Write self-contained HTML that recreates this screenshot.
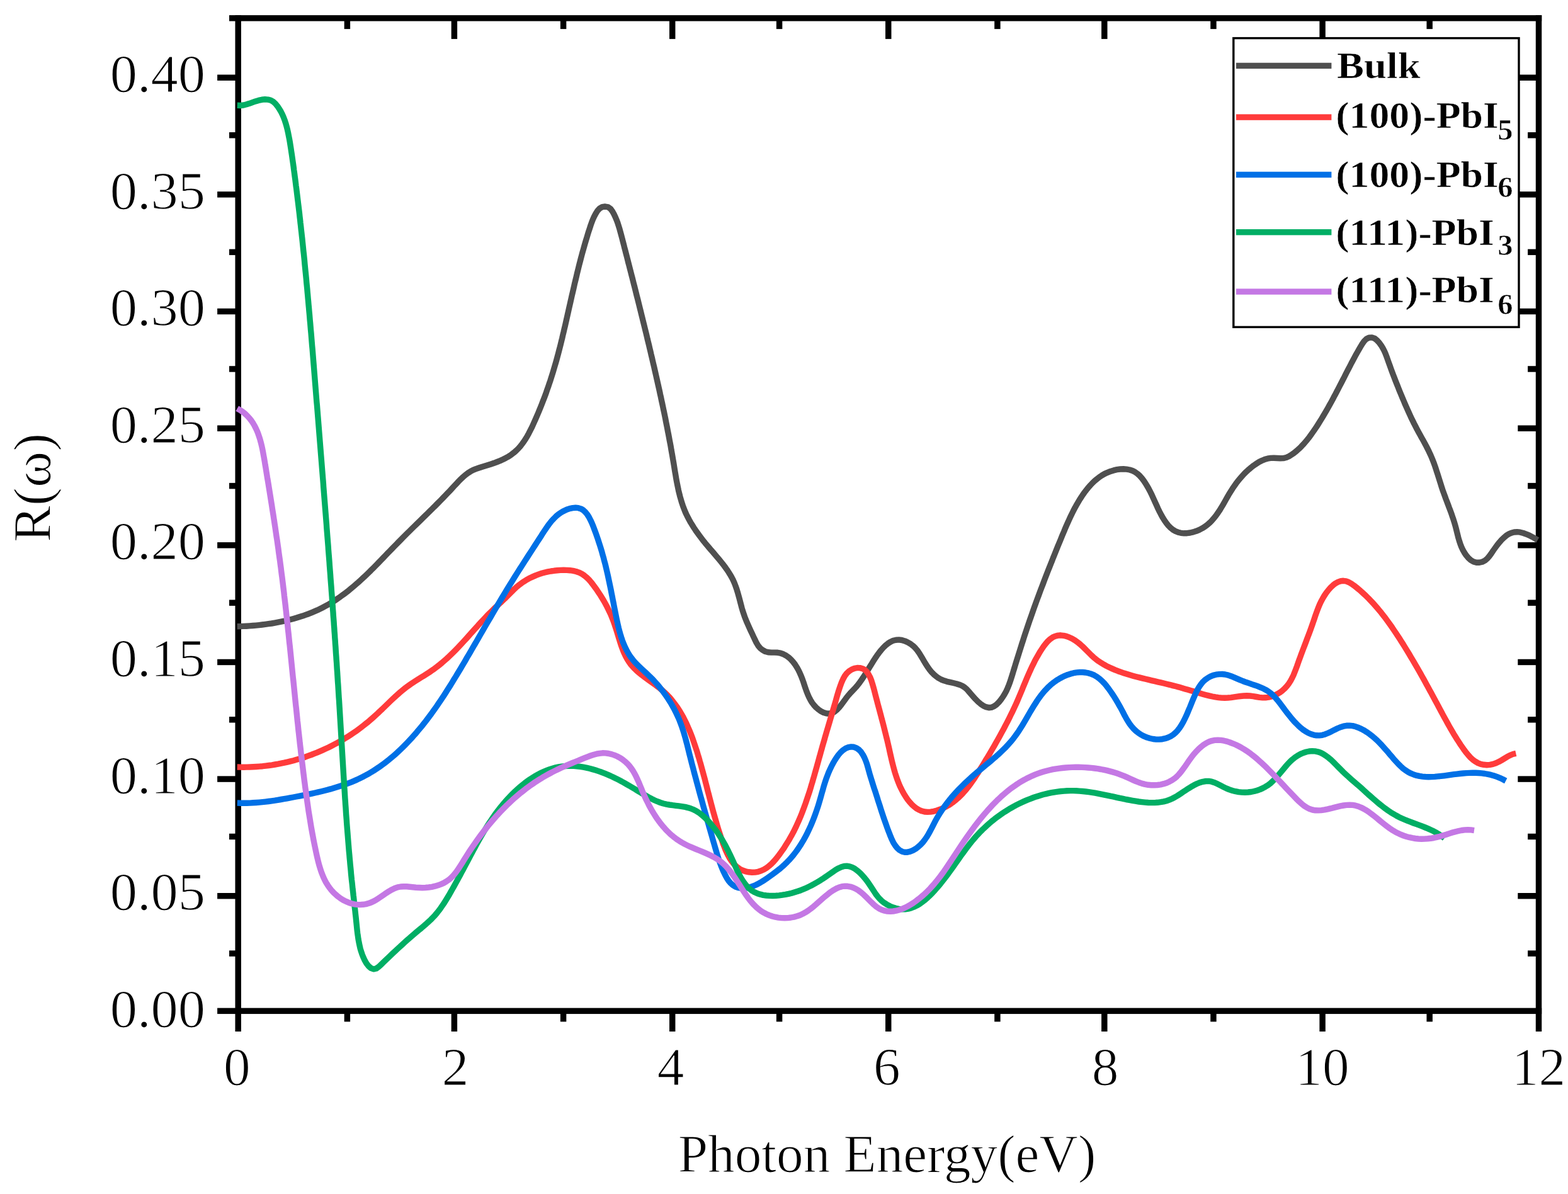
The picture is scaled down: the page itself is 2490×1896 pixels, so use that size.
<!DOCTYPE html>
<html lang="en"><head><meta charset="utf-8"><title>R(ω) vs Photon Energy</title>
<style>
html,body{margin:0;padding:0;background:#fff;}
body{width:2490px;height:1896px;overflow:hidden;}
svg{display:block;}
text{font-family:"Liberation Serif","DejaVu Serif",serif;fill:#000;}
.tick{font-size:84px;stroke:#fff;stroke-width:1.2px;paint-order:fill stroke;}
.title{font-size:85px;stroke:#fff;stroke-width:1.2px;paint-order:fill stroke;}
.leg{font-size:60px;font-weight:bold;stroke:#fff;stroke-width:0.6px;paint-order:fill stroke;}
.sub{font-size:45.7px;font-weight:bold;stroke:#fff;stroke-width:0.6px;paint-order:fill stroke;}
.curve{fill:none;stroke-width:9.4;stroke-linejoin:round;stroke-linecap:butt;}
</style></head><body>
<svg width="2490" height="1896" viewBox="0 0 2490 1896" role="img" aria-label="R(ω) versus Photon Energy(eV)">
<rect x="0" y="0" width="2490" height="1896" fill="#ffffff"/>
<g id="axes" fill="#000">
<rect x="364.00" y="24.12" width="2084.22" height="9.45"/>
<rect x="345.10" y="1600.62" width="2103.12" height="9.45"/>
<rect x="373.47" y="24.12" width="9.45" height="1613.88"/>
<rect x="2438.78" y="24.12" width="9.45" height="1613.88"/>
<rect x="546.67" y="1605.35" width="9.45" height="17.05"/>
<rect x="546.67" y="28.85" width="9.45" height="17.25"/>
<rect x="716.67" y="1605.35" width="9.45" height="32.65"/>
<rect x="716.67" y="28.85" width="9.45" height="33.05"/>
<rect x="889.88" y="1605.35" width="9.45" height="17.05"/>
<rect x="889.88" y="28.85" width="9.45" height="17.25"/>
<rect x="1062.98" y="1605.35" width="9.45" height="32.65"/>
<rect x="1062.98" y="28.85" width="9.45" height="33.05"/>
<rect x="1232.88" y="1605.35" width="9.45" height="17.05"/>
<rect x="1232.88" y="28.85" width="9.45" height="17.25"/>
<rect x="1406.03" y="1605.35" width="9.45" height="32.65"/>
<rect x="1406.03" y="28.85" width="9.45" height="33.05"/>
<rect x="1579.18" y="1605.35" width="9.45" height="17.05"/>
<rect x="1579.18" y="28.85" width="9.45" height="17.25"/>
<rect x="1749.08" y="1605.35" width="9.45" height="32.65"/>
<rect x="1749.08" y="28.85" width="9.45" height="33.05"/>
<rect x="1922.23" y="1605.35" width="9.45" height="17.05"/>
<rect x="1922.23" y="28.85" width="9.45" height="17.25"/>
<rect x="2095.38" y="1605.35" width="9.45" height="32.65"/>
<rect x="2095.38" y="28.85" width="9.45" height="33.05"/>
<rect x="2265.47" y="1605.35" width="9.45" height="17.05"/>
<rect x="2265.47" y="28.85" width="9.45" height="17.25"/>
<rect x="345.10" y="118.53" width="33.10" height="9.45"/>
<rect x="2410.30" y="118.53" width="33.20" height="9.45"/>
<rect x="345.10" y="304.16" width="33.10" height="9.45"/>
<rect x="2410.30" y="304.16" width="33.20" height="9.45"/>
<rect x="345.10" y="489.80" width="33.10" height="9.45"/>
<rect x="2410.30" y="489.80" width="33.20" height="9.45"/>
<rect x="345.10" y="675.44" width="33.10" height="9.45"/>
<rect x="2410.30" y="675.44" width="33.20" height="9.45"/>
<rect x="345.10" y="861.08" width="33.10" height="9.45"/>
<rect x="2410.30" y="861.08" width="33.20" height="9.45"/>
<rect x="345.10" y="1046.72" width="33.10" height="9.45"/>
<rect x="2410.30" y="1046.72" width="33.20" height="9.45"/>
<rect x="345.10" y="1232.37" width="33.10" height="9.45"/>
<rect x="2410.30" y="1232.37" width="33.20" height="9.45"/>
<rect x="345.10" y="1418.01" width="33.10" height="9.45"/>
<rect x="2410.30" y="1418.01" width="33.20" height="9.45"/>
<rect x="364.00" y="210.00" width="14.20" height="9.45"/>
<rect x="2426.10" y="210.00" width="17.40" height="9.45"/>
<rect x="364.00" y="395.62" width="14.20" height="9.45"/>
<rect x="2426.10" y="395.62" width="17.40" height="9.45"/>
<rect x="364.00" y="581.24" width="14.20" height="9.45"/>
<rect x="2426.10" y="581.24" width="17.40" height="9.45"/>
<rect x="364.00" y="766.86" width="14.20" height="9.45"/>
<rect x="2426.10" y="766.86" width="17.40" height="9.45"/>
<rect x="364.00" y="952.48" width="14.20" height="9.45"/>
<rect x="2426.10" y="952.48" width="17.40" height="9.45"/>
<rect x="364.00" y="1138.10" width="14.20" height="9.45"/>
<rect x="2426.10" y="1138.10" width="17.40" height="9.45"/>
<rect x="364.00" y="1323.72" width="14.20" height="9.45"/>
<rect x="2426.10" y="1323.72" width="17.40" height="9.45"/>
<rect x="364.00" y="1509.34" width="14.20" height="9.45"/>
<rect x="2426.10" y="1509.34" width="17.40" height="9.45"/>
</g>
<g id="curves">
<path class="curve" stroke="#4F4F4F" d="M376.7 994.7L381.6 994.6L386.5 994.4L391.4 994.2L396.4 993.9L401.3 993.5L406.3 993.1L411.3 992.6L416.3 992L421.3 991.4L426.3 990.7L431.3 990L436.3 989.1L441.3 988.2L446.3 987.2L451.3 986.2L456.3 985L461.2 983.8L466.1 982.5L471 981.1L475.8 979.6L480.6 978.1L485.3 976.4L490.1 974.7L494.7 972.8L499.3 970.9L503.9 968.9L508.4 966.8L512.9 964.5L517.2 962.2L521.5 959.8L525.8 957.3L530 954.7L534.1 952L538.2 949.2L542.2 946.3L546.2 943.4L550.1 940.4L554 937.4L557.9 934.2L561.7 931L565.4 927.8L569.2 924.5L572.9 921.1L576.5 917.8L580.2 914.3L583.8 910.9L587.4 907.4L590.9 903.8L594.5 900.3L598 896.7L601.5 893.1L605 889.5L608.5 885.9L612 882.3L615.5 878.6L619 875L622.5 871.4L626 867.8L629.5 864.2L633 860.6L636.5 857.1L640 853.5L643.5 850L647 846.5L650.6 843L654.1 839.5L657.7 836L661.2 832.6L664.8 829.1L668.4 825.6L671.9 822.2L675.5 818.7L679 815.2L682.6 811.7L686.1 808.2L689.7 804.7L693.2 801.1L696.7 797.6L700.3 794L703.8 790.4L707.3 786.8L710.8 783.1L714.3 779.4L717.7 775.7L721.2 771.9L724.7 768.2L728.1 764.5L731.7 760.9L735.3 757.5L739.1 754.2L743 751.3L747 748.7L751.3 746.4L755.7 744.6L760.4 743L765.1 741.5L769.9 740.1L774.8 738.6L779.7 737L784.6 735.3L789.4 733.5L794.2 731.6L798.8 729.5L803.3 727.2L807.7 724.8L811.8 722.1L815.7 719.1L819.4 715.9L822.9 712.5L826.1 708.9L829.1 705L832 701L834.7 696.9L837.3 692.6L839.7 688.2L842 683.7L844.3 679.2L846.4 674.6L848.5 669.9L850.6 665.3L852.6 660.7L854.6 656L856.5 651.4L858.4 646.7L860.3 642L862.1 637.3L863.9 632.7L865.7 628L867.4 623.3L869 618.5L870.7 613.8L872.3 609.1L873.9 604.4L875.4 599.6L876.9 594.9L878.4 590.1L879.8 585.3L881.2 580.5L882.6 575.8L884 570.9L885.3 566.1L886.6 561.3L887.8 556.5L889.1 551.6L890.3 546.8L891.5 541.9L892.7 537.1L893.8 532.2L895 527.4L896.1 522.5L897.3 517.6L898.4 512.7L899.5 507.9L900.6 503L901.7 498.1L902.8 493.2L903.9 488.3L905 483.5L906.1 478.6L907.2 473.7L908.3 468.8L909.5 463.9L910.6 459.1L911.7 454.2L912.8 449.3L914 444.5L915.2 439.6L916.3 434.7L917.5 429.9L918.7 425L919.9 420.2L921.2 415.3L922.4 410.5L923.7 405.6L925 400.8L926.4 396L927.7 391.2L929.1 386.4L930.5 381.6L932 376.8L933.4 372L934.9 367.2L936.5 362.5L938 357.8L939.7 353L941.5 348.4L943.6 343.8L946 339.3L948.7 334.9L952.1 331.1L956.3 328.7L961.1 328L965.7 328.9L969.6 331.6L972.6 335.7L975.1 340.2L977.3 344.9L979.2 349.6L981 354.3L982.5 359.1L984 363.9L985.3 368.7L986.6 373.5L987.9 378.4L989.1 383.2L990.4 388L991.6 392.9L992.9 397.7L994.1 402.5L995.4 407.4L996.6 412.2L997.8 417L999.1 421.9L1000.3 426.7L1001.6 431.6L1002.8 436.4L1004.1 441.3L1005.3 446.1L1006.5 451L1007.8 455.8L1009 460.7L1010.2 465.5L1011.4 470.4L1012.7 475.3L1013.9 480.1L1015.1 485L1016.3 489.8L1017.5 494.7L1018.7 499.6L1019.9 504.4L1021.1 509.3L1022.3 514.1L1023.5 519L1024.7 523.9L1025.9 528.7L1027.1 533.6L1028.2 538.5L1029.4 543.3L1030.6 548.2L1031.7 553L1032.9 557.9L1034 562.8L1035.2 567.6L1036.3 572.5L1037.4 577.3L1038.6 582.2L1039.7 587.1L1040.8 591.9L1041.9 596.8L1043 601.6L1044.1 606.5L1045.2 611.4L1046.3 616.2L1047.4 621.1L1048.4 626L1049.5 630.8L1050.5 635.7L1051.6 640.6L1052.6 645.4L1053.6 650.3L1054.7 655.2L1055.7 660.1L1056.7 665L1057.6 669.9L1058.6 674.8L1059.6 679.7L1060.5 684.6L1061.5 689.5L1062.4 694.4L1063.3 699.3L1064.3 704.3L1065.2 709.2L1066 714.2L1066.9 719.1L1067.8 724.1L1068.6 729.1L1069.5 734.1L1070.3 739L1071.1 744L1071.9 749L1072.8 754L1073.6 759L1074.5 764L1075.5 769L1076.5 773.9L1077.5 778.8L1078.7 783.7L1079.9 788.5L1081.3 793.3L1082.7 798.1L1084.3 802.8L1086 807.4L1087.8 812L1089.8 816.5L1092 820.9L1094.3 825.3L1096.7 829.6L1099.3 833.8L1101.9 838L1104.7 842.2L1107.6 846.3L1110.5 850.3L1113.5 854.3L1116.6 858.3L1119.7 862.2L1122.9 866L1126.2 869.9L1129.4 873.7L1132.7 877.4L1135.9 881.2L1139.1 885L1142.3 888.8L1145.4 892.6L1148.5 896.5L1151.4 900.4L1154.3 904.4L1157 908.5L1159.6 912.7L1162 916.9L1164.3 921.3L1166.3 925.9L1168.1 930.6L1169.8 935.4L1171.3 940.3L1172.7 945.3L1174.1 950.3L1175.4 955.3L1176.7 960.3L1178 965.2L1179.4 970L1181 974.8L1182.6 979.4L1184.4 983.9L1186.2 988.4L1188.2 992.9L1190.2 997.4L1192.3 1001.9L1194.5 1006.5L1196.6 1011.1L1198.9 1015.9L1201.2 1020.7L1203.9 1025.2L1207.1 1029.1L1210.9 1032.2L1215.2 1034.5L1219.9 1035.7L1224.8 1036.1L1229.9 1036.1L1234.9 1036.3L1239.6 1037.2L1244.1 1038.8L1248.3 1041L1252.3 1043.8L1255.9 1047.1L1259.3 1050.9L1262.5 1055L1265.3 1059.4L1267.9 1064L1270.2 1068.8L1272.3 1073.6L1274.2 1078.5L1275.9 1083.3L1277.5 1088.2L1279.1 1093L1280.8 1097.8L1282.6 1102.4L1284.6 1106.9L1286.9 1111.3L1289.4 1115.5L1292.4 1119.5L1295.8 1123.2L1299.6 1126.5L1303.6 1129.3L1307.8 1131.5L1312.1 1132.8L1316.4 1133.2L1320.7 1132.5L1324.8 1130.5L1328.7 1127.4L1332.5 1123.5L1336.1 1119L1339.6 1114.2L1343.1 1109.4L1346.5 1105L1349.9 1101.1L1353.3 1097.5L1356.6 1094.1L1359.7 1090.7L1362.6 1087.1L1365.5 1083.3L1368.2 1079.5L1370.9 1075.5L1373.5 1071.4L1376.1 1067.3L1378.7 1063L1381.3 1058.7L1384 1054.4L1386.7 1050L1389.6 1045.5L1392.6 1041.1L1395.8 1036.7L1399.1 1032.5L1402.6 1028.5L1406.3 1024.9L1410.1 1021.8L1414.1 1019.2L1418.3 1017.3L1422.8 1016.2L1427.4 1015.9L1432.2 1016.5L1437 1017.9L1441.6 1020L1446.1 1022.6L1450.1 1025.7L1453.7 1029.2L1456.9 1033L1459.7 1037.1L1462.4 1041.4L1465 1045.7L1467.5 1050.1L1470.2 1054.5L1472.9 1058.8L1475.9 1063L1479.1 1066.9L1482.6 1070.6L1486.3 1073.8L1490.3 1076.7L1494.5 1079L1499.1 1080.8L1503.9 1082.3L1508.8 1083.4L1513.8 1084.5L1518.8 1085.7L1523.5 1087.2L1527.9 1089L1531.8 1091.5L1535.3 1094.5L1538.5 1098.1L1541.8 1102L1545.4 1106.1L1549.2 1110.3L1553.1 1114.2L1557.3 1117.8L1561.5 1120.7L1565.8 1122.7L1570.1 1123.7L1574.3 1123.3L1578.4 1121.6L1582.4 1118.8L1586.1 1115.2L1589.5 1111L1592.6 1106.6L1595.3 1102.2L1597.8 1097.7L1599.9 1093.1L1601.8 1088.5L1603.6 1083.8L1605.1 1079.2L1606.6 1074.5L1608.1 1069.8L1609.5 1065L1611 1060.3L1612.4 1055.5L1613.9 1050.7L1615.4 1045.9L1616.9 1041.1L1618.4 1036.3L1619.9 1031.6L1621.4 1026.8L1622.9 1022L1624.5 1017.2L1626 1012.4L1627.6 1007.6L1629.2 1002.8L1630.8 998.1L1632.4 993.3L1634 988.6L1635.6 983.8L1637.3 979.1L1638.9 974.4L1640.6 969.7L1642.2 965L1643.9 960.3L1645.6 955.7L1647.3 951L1649.1 946.3L1650.8 941.7L1652.5 937L1654.3 932.4L1656.1 927.7L1657.8 923.1L1659.6 918.4L1661.4 913.8L1663.2 909.1L1665 904.5L1666.9 899.9L1668.7 895.2L1670.6 890.6L1672.4 885.9L1674.3 881.3L1676.2 876.6L1678 872L1679.9 867.3L1681.8 862.7L1683.8 858L1685.7 853.3L1687.6 848.6L1689.6 844L1691.5 839.3L1693.5 834.6L1695.6 830L1697.7 825.4L1699.8 820.8L1702 816.2L1704.2 811.7L1706.5 807.3L1708.9 802.9L1711.4 798.6L1713.9 794.3L1716.6 790.1L1719.3 786L1722.1 782L1725.1 778.1L1728.2 774.3L1731.4 770.6L1734.7 767.1L1738.3 763.7L1742 760.6L1745.8 757.6L1749.9 754.9L1754.2 752.4L1758.8 750.3L1763.5 748.4L1768.5 746.9L1773.7 745.7L1778.8 745L1784 744.8L1789 745.1L1793.9 746L1798.5 747.5L1802.7 749.7L1806.6 752.5L1810.2 755.8L1813.5 759.6L1816.5 763.6L1819.3 767.8L1821.8 772L1824.2 776.2L1826.4 780.4L1828.5 784.6L1830.5 788.9L1832.5 793.4L1834.6 798L1836.8 802.8L1839 807.7L1841.4 812.6L1843.9 817.4L1846.5 822.1L1849.3 826.6L1852.3 830.8L1855.5 834.7L1858.9 838.1L1862.6 841.1L1866.6 843.5L1870.8 845.2L1875.3 846.3L1880.1 846.8L1884.9 846.7L1889.9 846L1894.8 844.9L1899.7 843.3L1904.5 841.3L1909.1 838.9L1913.4 836.2L1917.4 833.2L1921.2 829.9L1924.6 826.4L1927.9 822.7L1930.9 818.9L1933.8 814.8L1936.6 810.7L1939.2 806.4L1941.8 802.1L1944.3 797.7L1946.8 793.3L1949.3 788.9L1951.8 784.5L1954.5 780.2L1957.2 775.9L1960 771.8L1962.9 767.7L1966 763.7L1969.1 759.8L1972.4 756.1L1975.8 752.4L1979.3 748.9L1983 745.6L1986.8 742.4L1990.7 739.3L1994.9 736.5L1999.1 733.8L2003.6 731.5L2008.2 729.6L2012.9 728.2L2017.8 727.4L2022.9 727.2L2028 727.5L2033.1 727.8L2038 727.6L2042.7 726.5L2047.1 724.5L2051.2 721.9L2055.2 719.1L2059 716L2062.6 712.8L2066.2 709.3L2069.5 705.8L2072.8 702L2076 698.2L2079.1 694.3L2082 690.2L2084.9 686.1L2087.8 682L2090.6 677.8L2093.3 673.6L2096 669.3L2098.6 665.1L2101.2 660.8L2103.8 656.4L2106.3 652.1L2108.8 647.7L2111.2 643.4L2113.7 639L2116.1 634.6L2118.4 630.1L2120.8 625.7L2123.1 621.3L2125.4 616.9L2127.7 612.4L2130 608L2132.3 603.5L2134.6 599.1L2136.8 594.7L2139.1 590.2L2141.4 585.8L2143.7 581.4L2145.9 577L2148.2 572.7L2150.6 568.3L2152.9 563.9L2155.4 559.5L2157.9 555.1L2160.5 550.6L2163.3 546L2166.3 541.8L2169.8 538.3L2173.9 536.2L2178.6 535.9L2183.1 537.5L2187 540.7L2190.4 544.4L2193.3 548.4L2195.9 552.7L2198.2 557.1L2200.2 561.7L2202 566.4L2203.7 571.2L2205.4 576L2207.1 580.7L2208.8 585.5L2210.5 590.2L2212.3 594.9L2214.1 599.5L2215.9 604.2L2217.7 608.8L2219.6 613.4L2221.4 618.1L2223.3 622.7L2225.2 627.3L2227.1 631.9L2229.1 636.5L2231 641.1L2233 645.7L2235 650.2L2237.1 654.8L2239.2 659.4L2241.3 663.9L2243.5 668.4L2245.7 672.9L2248 677.3L2250.3 681.8L2252.7 686.2L2255.1 690.5L2257.5 694.9L2260 699.3L2262.4 703.7L2264.7 708L2267 712.5L2269.2 716.9L2271.3 721.4L2273.3 726L2275.2 730.6L2277 735.3L2278.7 740L2280.3 744.8L2281.8 749.6L2283.4 754.3L2284.9 759.1L2286.4 763.9L2287.9 768.7L2289.4 773.5L2291 778.3L2292.7 783L2294.4 787.7L2296.1 792.4L2297.9 797L2299.7 801.7L2301.4 806.4L2303.2 811L2304.9 815.7L2306.5 820.4L2308.1 825.1L2309.6 829.9L2311 834.6L2312.3 839.5L2313.5 844.3L2314.7 849.2L2315.9 854L2317.3 858.8L2318.9 863.6L2320.7 868.3L2322.8 872.9L2325.4 877.5L2328.3 881.8L2331.8 886L2335.7 889.5L2340 892L2344.6 893.3L2349.3 893.3L2353.9 892.2L2358.1 890.1L2361.8 887L2365.1 883.1L2368.2 878.9L2371.2 874.4L2374.4 869.9L2377.6 865.5L2381 861.3L2384.4 857.4L2388.1 853.8L2391.9 850.6L2395.9 848.1L2400 846.2L2404.5 845L2409.2 844.7L2414 845.2L2419.1 846.5L2424.1 848.3L2429 850.4L2433.6 852.8L2437.9 855.3L2441.8 857.6"/>
<path class="curve" stroke="#FF3B3B" d="M376.7 1218L381.7 1218.1L386.8 1218.2L391.8 1218.1L396.8 1218L401.9 1217.8L406.9 1217.5L411.9 1217.1L416.9 1216.7L421.9 1216.1L426.8 1215.5L431.8 1214.8L436.7 1214L441.7 1213.2L446.6 1212.2L451.5 1211.2L456.3 1210.1L461.2 1208.9L466 1207.7L470.8 1206.3L475.6 1204.9L480.4 1203.4L485.1 1201.9L489.8 1200.2L494.5 1198.5L499.1 1196.7L503.8 1194.9L508.4 1192.9L512.9 1190.9L517.5 1188.8L522 1186.7L526.4 1184.5L530.8 1182.2L535.2 1179.8L539.6 1177.4L543.9 1174.9L548.2 1172.3L552.4 1169.7L556.6 1167L560.8 1164.2L564.9 1161.4L568.9 1158.4L572.9 1155.5L576.9 1152.4L580.8 1149.3L584.7 1146.2L588.5 1142.9L592.3 1139.6L596 1136.3L599.7 1132.9L603.3 1129.4L607 1126L610.6 1122.5L614.2 1119L617.8 1115.5L621.4 1112L625 1108.6L628.7 1105.2L632.5 1101.9L636.2 1098.6L640.1 1095.4L644 1092.3L648 1089.3L652.1 1086.4L656.3 1083.6L660.5 1080.9L664.7 1078.2L669 1075.6L673.3 1072.9L677.5 1070.2L681.8 1067.5L685.9 1064.7L690 1061.8L694 1058.8L697.9 1055.7L701.8 1052.5L705.5 1049.3L709.3 1046L712.9 1042.6L716.5 1039.1L720.1 1035.6L723.6 1032.1L727.1 1028.5L730.6 1024.8L734 1021.1L737.4 1017.4L740.8 1013.7L744.1 1010L747.5 1006.2L750.8 1002.5L754.2 998.7L757.6 995L760.9 991.2L764.3 987.5L767.7 983.9L771.2 980.2L774.6 976.6L778.1 973L781.7 969.5L785.2 966L788.9 962.6L792.5 959.2L796.1 955.8L799.7 952.4L803.3 949L806.8 945.5L810.3 942L813.8 938.4L817.3 934.9L821 931.6L824.9 928.4L828.9 925.4L833.1 922.7L837.4 920.1L841.8 917.7L846.4 915.6L851 913.6L855.6 911.9L860.4 910.3L865.2 909L870 907.9L874.9 907L879.9 906.3L884.9 905.8L889.9 905.4L895 905.3L900.1 905.4L905.1 905.7L910.1 906.4L914.9 907.5L919.5 909.1L923.9 911.2L928 914L931.8 917.2L935.4 920.7L938.7 924.5L941.8 928.5L944.8 932.6L947.7 936.6L950.5 940.8L953.3 945L955.9 949.2L958.5 953.5L960.9 957.8L963.3 962.2L965.5 966.6L967.7 971.1L969.8 975.6L971.7 980.3L973.6 984.9L975.3 989.7L976.9 994.5L978.5 999.3L980 1004.2L981.5 1009.1L983 1014L984.5 1018.8L986 1023.7L987.7 1028.4L989.5 1033.1L991.4 1037.6L993.5 1042.1L995.8 1046.3L998.3 1050.4L1001.1 1054.4L1004.2 1058.1L1007.6 1061.7L1011.1 1065.1L1014.9 1068.3L1018.8 1071.5L1022.8 1074.6L1027 1077.6L1031.1 1080.6L1035.3 1083.6L1039.5 1086.6L1043.6 1089.7L1047.7 1092.8L1051.6 1096.1L1055.3 1099.4L1058.9 1102.9L1062.4 1106.5L1065.7 1110.2L1068.8 1114.1L1071.8 1118L1074.7 1122L1077.5 1126.1L1080.1 1130.3L1082.6 1134.6L1085 1138.9L1087.3 1143.4L1089.5 1147.8L1091.6 1152.4L1093.6 1157L1095.6 1161.6L1097.4 1166.2L1099.2 1170.9L1100.9 1175.7L1102.5 1180.4L1104.1 1185.2L1105.7 1189.9L1107.2 1194.7L1108.6 1199.5L1110.1 1204.2L1111.4 1209L1112.8 1213.7L1114.1 1218.5L1115.4 1223.3L1116.7 1228.1L1118 1232.8L1119.3 1237.6L1120.5 1242.4L1121.8 1247.2L1123 1252L1124.2 1256.8L1125.5 1261.6L1126.7 1266.4L1128 1271.2L1129.2 1276L1130.5 1280.8L1131.8 1285.7L1133.1 1290.5L1134.5 1295.4L1135.9 1300.3L1137.3 1305.1L1138.7 1310L1140.2 1315L1141.7 1319.9L1143.3 1324.8L1144.9 1329.8L1146.6 1334.7L1148.3 1339.7L1150.2 1344.6L1152.1 1349.5L1154.2 1354.2L1156.5 1358.8L1158.9 1363.1L1161.6 1367.2L1164.6 1371L1167.8 1374.4L1171.4 1377.5L1175.3 1380.1L1179.6 1382.2L1184.2 1383.8L1189.1 1384.8L1194.1 1385.3L1199 1385.1L1203.9 1384.3L1208.5 1382.8L1213 1380.8L1217.2 1378.2L1221.2 1375.1L1225.1 1371.7L1228.8 1367.9L1232.3 1363.9L1235.6 1359.7L1238.8 1355.4L1241.8 1351.1L1244.8 1346.9L1247.5 1342.6L1250.2 1338.3L1252.8 1334.1L1255.2 1329.8L1257.6 1325.6L1259.9 1321.3L1262.1 1316.9L1264.2 1312.6L1266.2 1308.1L1268.2 1303.7L1270.2 1299.1L1272.1 1294.6L1273.9 1290L1275.7 1285.3L1277.4 1280.7L1279.1 1276L1280.7 1271.2L1282.3 1266.5L1283.9 1261.7L1285.5 1256.9L1287 1252.1L1288.4 1247.2L1289.9 1242.4L1291.3 1237.5L1292.7 1232.7L1294.1 1227.8L1295.5 1222.9L1296.9 1218L1298.2 1213.2L1299.6 1208.3L1300.9 1203.4L1302.3 1198.6L1303.6 1193.8L1305 1188.9L1306.3 1184.1L1307.7 1179.4L1309.1 1174.6L1310.4 1169.8L1311.8 1165.1L1313.2 1160.3L1314.6 1155.6L1316 1150.9L1317.4 1146.1L1318.8 1141.4L1320.2 1136.6L1321.6 1131.9L1323 1127.1L1324.4 1122.3L1325.8 1117.6L1327.2 1112.7L1328.5 1107.9L1329.9 1103.1L1331.4 1098.2L1333 1093.3L1334.7 1088.3L1336.6 1083.2L1338.9 1078.1L1341.5 1073.4L1344.7 1069.1L1348.4 1065.7L1352.5 1063.1L1356.8 1061.4L1361.3 1060.5L1365.6 1060.6L1369.7 1061.7L1373.3 1063.7L1376.4 1066.7L1379.1 1070.5L1381.5 1074.9L1383.5 1079.8L1385.2 1085.1L1386.8 1090.6L1388.3 1096.1L1389.7 1101.6L1391.1 1107L1392.5 1112.2L1393.8 1117.3L1395.2 1122.4L1396.5 1127.3L1397.8 1132.2L1399.1 1137L1400.3 1141.8L1401.6 1146.5L1402.8 1151.1L1404 1155.8L1405.1 1160.4L1406.3 1165.1L1407.4 1169.7L1408.6 1174.3L1409.7 1179L1410.8 1183.7L1411.9 1188.5L1412.9 1193.3L1414 1198.1L1415.1 1202.9L1416.2 1207.8L1417.4 1212.7L1418.7 1217.6L1420 1222.5L1421.4 1227.4L1423 1232.3L1424.6 1237.1L1426.5 1241.9L1428.4 1246.7L1430.6 1251.4L1432.9 1256L1435.4 1260.6L1438.2 1265L1441.1 1269.4L1444.3 1273.4L1447.7 1277.2L1451.4 1280.6L1455.2 1283.6L1459.3 1286L1463.6 1287.8L1468.2 1289L1472.9 1289.4L1477.9 1289.1L1482.8 1288.3L1487.8 1287L1492.7 1285.3L1497.4 1283.4L1501.9 1281.1L1506.3 1278.7L1510.4 1276L1514.4 1273.1L1518.2 1270.1L1521.9 1266.8L1525.4 1263.4L1528.8 1259.9L1532.1 1256.2L1535.3 1252.4L1538.4 1248.5L1541.4 1244.4L1544.3 1240.3L1547.2 1236.2L1549.9 1231.9L1552.7 1227.7L1555.4 1223.3L1558.1 1219L1560.8 1214.7L1563.4 1210.4L1566 1206L1568.7 1201.7L1571.3 1197.3L1573.8 1193L1576.4 1188.6L1578.9 1184.3L1581.4 1179.9L1583.9 1175.5L1586.4 1171.1L1588.8 1166.7L1591.2 1162.3L1593.6 1157.9L1595.9 1153.5L1598.2 1149.1L1600.5 1144.7L1602.7 1140.3L1604.9 1135.8L1607.1 1131.4L1609.2 1126.9L1611.3 1122.5L1613.4 1118L1615.4 1113.5L1617.3 1109L1619.2 1104.5L1621.1 1100L1623 1095.5L1624.8 1090.9L1626.7 1086.4L1628.6 1081.9L1630.5 1077.3L1632.5 1072.7L1634.5 1068.1L1636.6 1063.5L1638.7 1058.9L1641 1054.3L1643.3 1049.6L1645.8 1045L1648.5 1040.3L1651.2 1035.6L1654.2 1031L1657.3 1026.4L1660.6 1022.1L1664 1018.2L1667.7 1014.8L1671.6 1012.1L1675.7 1010.2L1680 1009.1L1684.4 1008.8L1689 1009.3L1693.6 1010.4L1698.2 1012.1L1702.7 1014.3L1707.1 1016.9L1711.3 1019.8L1715.2 1023L1719 1026.4L1722.5 1029.9L1726.1 1033.5L1729.6 1037L1733.1 1040.5L1736.7 1043.8L1740.5 1046.9L1744.5 1049.9L1748.6 1052.6L1752.9 1055.2L1757.2 1057.6L1761.7 1059.8L1766.3 1061.9L1770.9 1063.9L1775.6 1065.7L1780.4 1067.4L1785.2 1069.1L1790.1 1070.6L1795 1072L1799.9 1073.4L1804.8 1074.7L1809.6 1075.9L1814.5 1077.1L1819.3 1078.3L1824.1 1079.4L1828.9 1080.6L1833.7 1081.7L1838.5 1082.8L1843.3 1083.9L1848.1 1085L1852.9 1086.2L1857.6 1087.3L1862.4 1088.6L1867.2 1089.8L1872.1 1091.1L1876.9 1092.5L1881.7 1093.9L1886.6 1095.3L1891.4 1096.7L1896.3 1098.1L1901.1 1099.6L1905.9 1101L1910.8 1102.4L1915.6 1103.7L1920.4 1104.9L1925.3 1106L1930.1 1106.9L1935 1107.6L1939.9 1108.1L1944.8 1108.2L1949.8 1108L1954.8 1107.6L1959.8 1106.9L1964.8 1106.2L1969.8 1105.5L1974.9 1105L1979.9 1104.8L1984.9 1105L1990 1105.6L1995 1106.5L2000 1107.4L2004.9 1107.9L2009.8 1107.8L2014.7 1107.2L2019.4 1106L2024.1 1104.2L2028.5 1102L2032.7 1099.4L2036.7 1096.4L2040.4 1093L2043.7 1089.3L2046.8 1085.3L2049.4 1081.2L2051.8 1076.8L2054 1072.3L2055.9 1067.6L2057.7 1062.9L2059.5 1058.1L2061.2 1053.2L2062.9 1048.4L2064.7 1043.6L2066.4 1038.9L2068.2 1034.1L2070 1029.4L2071.8 1024.7L2073.6 1020L2075.3 1015.3L2077.1 1010.6L2078.9 1006L2080.6 1001.3L2082.3 996.7L2083.9 992.1L2085.5 987.5L2087.1 982.9L2088.6 978.3L2090.2 973.7L2091.9 969.1L2093.7 964.5L2095.6 959.9L2097.8 955.3L2100.3 950.6L2103 946L2106.1 941.4L2109.5 937L2113.1 932.9L2116.9 929.3L2120.8 926.3L2124.9 924.1L2129.1 922.7L2133.3 922.3L2137.6 922.9L2141.8 924.5L2146 926.9L2150.2 929.8L2154.3 933L2158.3 936.3L2162.2 939.7L2166 943.2L2169.7 946.7L2173.3 950.3L2176.8 954L2180.3 957.6L2183.6 961.4L2186.9 965.2L2190.1 969L2193.3 972.8L2196.4 976.8L2199.4 980.7L2202.4 984.7L2205.3 988.7L2208.2 992.8L2211 996.8L2213.8 1001L2216.6 1005.1L2219.4 1009.3L2222.1 1013.4L2224.8 1017.7L2227.5 1021.9L2230.1 1026.1L2232.7 1030.4L2235.4 1034.7L2238 1039L2240.5 1043.3L2243.1 1047.6L2245.6 1051.9L2248.2 1056.3L2250.7 1060.6L2253.2 1065L2255.7 1069.4L2258.1 1073.7L2260.6 1078.1L2263 1082.5L2265.4 1086.9L2267.8 1091.3L2270.2 1095.7L2272.6 1100.1L2275 1104.5L2277.4 1108.9L2279.7 1113.3L2282.1 1117.6L2284.4 1122L2286.8 1126.4L2289.1 1130.8L2291.4 1135.1L2293.8 1139.5L2296.2 1143.8L2298.6 1148.1L2301 1152.5L2303.5 1156.8L2306 1161.1L2308.5 1165.4L2311.2 1169.7L2313.8 1174L2316.6 1178.3L2319.4 1182.6L2322.4 1186.9L2325.4 1191.2L2328.5 1195.3L2331.8 1199.3L2335.2 1203L2338.9 1206.4L2342.8 1209.2L2347 1211.6L2351.5 1213.3L2356.2 1214.3L2361.1 1214.7L2366 1214.4L2370.9 1213.4L2375.6 1211.8L2380.3 1209.6L2384.7 1207.1L2389.2 1204.4L2393.5 1201.7L2398 1199.3L2402.5 1197.5L2407.3 1196.4"/>
<path class="curve" stroke="#0070E6" d="M376.7 1275L381.8 1275.2L386.8 1275.2L391.9 1275.2L396.9 1275.1L401.8 1274.8L406.8 1274.5L411.7 1274.1L416.7 1273.6L421.6 1273.1L426.5 1272.5L431.4 1271.8L436.3 1271.1L441.1 1270.3L446 1269.5L450.9 1268.7L455.8 1267.8L460.7 1266.9L465.6 1266L470.6 1265L475.5 1264.1L480.5 1263.1L485.4 1262.1L490.4 1261.1L495.3 1260.1L500.3 1259L505.2 1257.9L510.2 1256.7L515.1 1255.5L520 1254.2L524.9 1252.9L529.7 1251.5L534.5 1250.1L539.3 1248.6L544.1 1247L548.8 1245.3L553.5 1243.6L558.2 1241.8L562.8 1239.9L567.3 1237.9L571.8 1235.7L576.3 1233.5L580.7 1231.2L585 1228.8L589.3 1226.3L593.5 1223.7L597.6 1221L601.7 1218.3L605.8 1215.4L609.8 1212.5L613.7 1209.5L617.6 1206.4L621.5 1203.2L625.3 1200L629 1196.7L632.7 1193.3L636.3 1189.9L639.9 1186.4L643.4 1182.9L646.9 1179.3L650.4 1175.6L653.7 1172L657.1 1168.2L660.4 1164.5L663.6 1160.6L666.8 1156.8L670 1152.9L673.1 1149L676.2 1145.1L679.2 1141.1L682.2 1137.1L685.2 1133.1L688.1 1129L691 1125L693.9 1120.9L696.7 1116.7L699.5 1112.6L702.3 1108.4L705 1104.3L707.7 1100.1L710.4 1095.8L713.1 1091.6L715.8 1087.4L718.4 1083.1L721 1078.8L723.6 1074.6L726.2 1070.3L728.8 1066L731.4 1061.7L733.9 1057.4L736.5 1053.1L739 1048.8L741.5 1044.4L744.1 1040.1L746.6 1035.8L749.1 1031.5L751.6 1027.1L754.2 1022.8L756.7 1018.5L759.2 1014.2L761.7 1009.8L764.2 1005.5L766.7 1001.2L769.2 996.8L771.7 992.5L774.2 988.2L776.8 983.9L779.3 979.6L781.8 975.2L784.3 970.9L786.8 966.6L789.4 962.3L791.9 958L794.5 953.7L797 949.5L799.6 945.2L802.2 940.9L804.7 936.7L807.3 932.4L809.9 928.2L812.6 923.9L815.2 919.7L817.8 915.5L820.5 911.3L823.1 907.1L825.8 902.9L828.5 898.7L831.2 894.5L833.9 890.3L836.6 886.1L839.3 881.9L842 877.7L844.8 873.5L847.5 869.3L850.2 865.1L853 860.8L855.7 856.6L858.5 852.4L861.2 848.1L864 843.8L866.8 839.6L869.7 835.4L872.7 831.3L875.8 827.4L879.2 823.7L882.7 820.2L886.6 816.9L890.7 814L895.2 811.4L899.8 809.2L904.6 807.6L909.4 806.6L914 806.2L918.5 806.7L922.6 807.9L926.3 810.1L929.6 813.2L932.6 816.9L935.3 821.1L937.7 825.8L940 830.8L942.1 835.9L944 841L945.9 846L947.7 851.1L949.4 856L951 861L952.6 865.9L954.1 870.7L955.6 875.6L956.9 880.4L958.3 885.2L959.5 890L960.8 894.7L962 899.5L963.1 904.2L964.2 909L965.3 913.7L966.3 918.5L967.3 923.2L968.3 928L969.3 932.7L970.3 937.5L971.2 942.3L972.2 947.2L973.1 952L974.1 956.9L975 961.8L976 966.8L977 971.8L978 976.8L979 981.9L980.1 987L981.2 992L982.4 997.1L983.7 1002.1L985.1 1007.1L986.6 1012L988.2 1016.8L990 1021.6L992 1026.2L994.1 1030.7L996.4 1035.1L998.9 1039.3L1001.6 1043.3L1004.6 1047.2L1007.7 1050.9L1011.1 1054.4L1014.5 1057.9L1018.1 1061.3L1021.7 1064.6L1025.3 1068L1028.9 1071.4L1032.5 1074.8L1036 1078.3L1039.3 1081.9L1042.7 1085.6L1045.9 1089.4L1049 1093.2L1052.1 1097.1L1055 1101.1L1057.9 1105.1L1060.7 1109.2L1063.4 1113.4L1066 1117.6L1068.4 1121.9L1070.8 1126.3L1073.1 1130.7L1075.2 1135.2L1077.3 1139.7L1079.2 1144.3L1081 1149L1082.7 1153.7L1084.3 1158.4L1085.8 1163.2L1087.2 1168L1088.6 1172.8L1089.9 1177.7L1091.2 1182.6L1092.4 1187.5L1093.6 1192.4L1094.8 1197.3L1096.1 1202.2L1097.3 1207L1098.5 1211.9L1099.8 1216.8L1101.1 1221.6L1102.3 1226.5L1103.6 1231.3L1104.9 1236.1L1106.2 1241L1107.5 1245.8L1108.8 1250.6L1110.1 1255.4L1111.4 1260.2L1112.7 1265L1114.1 1269.8L1115.4 1274.6L1116.7 1279.4L1118.1 1284.2L1119.4 1289L1120.8 1293.8L1122.2 1298.6L1123.5 1303.4L1124.9 1308.2L1126.2 1313L1127.6 1317.8L1129 1322.6L1130.4 1327.4L1131.7 1332.2L1133.1 1337L1134.5 1341.8L1135.9 1346.6L1137.3 1351.4L1138.7 1356.2L1140.2 1361L1141.8 1365.8L1143.5 1370.6L1145.3 1375.3L1147.2 1380.1L1149.3 1384.8L1151.6 1389.5L1154.1 1394.1L1156.9 1398.4L1160.1 1402.3L1163.7 1405.5L1167.8 1408L1172.2 1409.6L1177 1410.4L1181.8 1410.4L1186.7 1409.8L1191.5 1408.6L1196.2 1407L1200.9 1405L1205.4 1402.6L1209.9 1400L1214.3 1397.2L1218.6 1394.3L1222.8 1391.3L1227 1388.3L1231 1385.3L1234.9 1382.3L1238.8 1379.2L1242.5 1376L1246.1 1372.7L1249.6 1369.3L1253 1365.8L1256.3 1362.1L1259.5 1358.4L1262.5 1354.5L1265.5 1350.5L1268.3 1346.4L1271.1 1342.2L1273.7 1337.9L1276.3 1333.6L1278.7 1329.2L1281.1 1324.7L1283.3 1320.1L1285.5 1315.5L1287.6 1310.9L1289.6 1306.2L1291.5 1301.5L1293.3 1296.8L1295 1292.1L1296.7 1287.3L1298.3 1282.6L1299.8 1277.8L1301.2 1273.1L1302.6 1268.4L1303.9 1263.7L1305.2 1259L1306.6 1254.3L1307.9 1249.6L1309.3 1244.9L1310.8 1240.3L1312.4 1235.6L1314.2 1230.9L1316 1226.2L1318.1 1221.6L1320.3 1216.9L1322.8 1212.2L1325.5 1207.5L1328.4 1202.9L1331.6 1198.5L1335.1 1194.5L1338.9 1191.1L1342.9 1188.4L1347.2 1186.7L1351.7 1185.9L1356.1 1186.3L1360.2 1187.9L1364 1190.5L1367.4 1194.1L1370.2 1198.3L1372.7 1203L1374.8 1208L1376.6 1213L1378.1 1218.1L1379.5 1223.2L1380.9 1228.3L1382.4 1233.3L1383.9 1238.2L1385.4 1243L1386.9 1247.8L1388.4 1252.5L1390 1257.1L1391.4 1261.7L1392.9 1266.3L1394.3 1270.9L1395.8 1275.4L1397.3 1280L1398.7 1284.6L1400.2 1289.2L1401.8 1293.9L1403.3 1298.6L1405 1303.3L1406.7 1308.1L1408.4 1313L1410.2 1318L1412.2 1323L1414.2 1328.2L1416.4 1333.3L1418.8 1338.3L1421.7 1342.8L1424.9 1346.8L1428.5 1350L1432.5 1352.2L1436.6 1353.2L1441 1353.2L1445.3 1352.2L1449.7 1350.4L1454 1347.9L1458.1 1344.8L1462 1341.3L1465.5 1337.5L1468.7 1333.4L1471.6 1329.2L1474.2 1324.9L1476.7 1320.4L1479.1 1315.9L1481.4 1311.3L1483.7 1306.8L1486.1 1302.3L1488.6 1297.9L1491.2 1293.6L1493.9 1289.3L1496.7 1285.2L1499.5 1281.1L1502.5 1277.1L1505.5 1273.1L1508.6 1269.2L1511.8 1265.4L1515.1 1261.6L1518.4 1257.9L1521.8 1254.3L1525.3 1250.7L1528.8 1247.2L1532.4 1243.7L1536 1240.3L1539.7 1236.9L1543.4 1233.6L1547.1 1230.3L1550.9 1227L1554.8 1223.8L1558.6 1220.6L1562.5 1217.4L1566.3 1214.2L1570.2 1211L1574 1207.8L1577.8 1204.5L1581.6 1201.3L1585.3 1198L1588.9 1194.6L1592.5 1191.2L1596.1 1187.7L1599.5 1184.1L1602.8 1180.4L1606.1 1176.7L1609.2 1172.8L1612.2 1168.8L1615.1 1164.7L1618 1160.6L1620.7 1156.3L1623.4 1152L1626 1147.6L1628.5 1143.3L1631.1 1138.8L1633.7 1134.4L1636.2 1130L1638.8 1125.7L1641.5 1121.3L1644.2 1117.1L1646.9 1112.9L1649.8 1108.7L1652.7 1104.7L1655.8 1100.8L1659 1097L1662.4 1093.4L1665.9 1089.9L1669.6 1086.6L1673.5 1083.5L1677.6 1080.6L1681.9 1077.9L1686.3 1075.5L1690.8 1073.3L1695.5 1071.4L1700.2 1069.9L1705 1068.7L1709.8 1067.9L1714.6 1067.5L1719.3 1067.5L1724.1 1068L1728.7 1068.9L1733.2 1070.3L1737.7 1072.2L1741.9 1074.7L1746 1077.7L1749.9 1081.2L1753.7 1085.1L1757.2 1089.3L1760.5 1093.6L1763.7 1098.1L1766.7 1102.5L1769.5 1106.8L1772.1 1111L1774.5 1115L1776.8 1119.1L1779.1 1123.1L1781.4 1127.4L1783.7 1131.8L1786 1136.3L1788.5 1140.8L1791.1 1145.2L1794 1149.6L1797.1 1153.7L1800.5 1157.5L1804.2 1161L1808.2 1164.1L1812.4 1166.9L1816.9 1169.2L1821.5 1171.1L1826.3 1172.5L1831.1 1173.5L1836 1174.1L1840.8 1174.1L1845.6 1173.7L1850.2 1172.7L1854.7 1171.2L1859 1169.2L1863.1 1166.6L1866.8 1163.4L1870.3 1159.7L1873.4 1155.6L1876.3 1151.1L1879 1146.4L1881.4 1141.6L1883.7 1136.8L1885.8 1132L1887.7 1127.4L1889.6 1123L1891.4 1118.5L1893.2 1114L1895.1 1109.4L1897.2 1104.6L1899.3 1099.9L1901.7 1095.2L1904.3 1090.7L1907.2 1086.5L1910.4 1082.6L1914 1079.3L1918 1076.5L1922.2 1074.2L1926.6 1072.4L1931.2 1071.2L1936 1070.6L1940.8 1070.5L1945.6 1071L1950.4 1072.1L1955 1073.7L1959.7 1075.6L1964.3 1077.6L1969 1079.6L1973.7 1081.5L1978.5 1083.3L1983.4 1084.9L1988.2 1086.6L1993.1 1088.2L1997.8 1089.9L2002.4 1091.8L2006.9 1093.8L2011.1 1096L2015.1 1098.6L2018.8 1101.5L2022.3 1104.7L2025.5 1108.2L2028.7 1111.9L2031.8 1115.7L2034.8 1119.8L2037.9 1123.9L2041.1 1128.2L2044.3 1132.4L2047.7 1136.7L2051.1 1140.9L2054.6 1144.9L2058.3 1148.8L2062 1152.5L2065.8 1155.9L2069.7 1159L2073.7 1161.7L2077.8 1164L2082 1165.8L2086.3 1167.1L2090.6 1167.8L2095.1 1167.9L2099.7 1167.3L2104.4 1165.9L2109.1 1164L2114 1161.7L2118.8 1159.2L2123.7 1156.8L2128.6 1154.7L2133.5 1153.2L2138.3 1152.3L2143.1 1152.1L2148 1152.6L2152.7 1153.8L2157.4 1155.5L2162 1157.6L2166.5 1160L2170.7 1162.7L2174.7 1165.5L2178.5 1168.4L2182.2 1171.5L2185.8 1174.7L2189.2 1178L2192.6 1181.5L2195.9 1185.1L2199.2 1188.8L2202.6 1192.6L2205.9 1196.6L2209.4 1200.6L2212.9 1204.8L2216.6 1208.9L2220.3 1212.9L2224.1 1216.6L2228 1220.2L2232.1 1223.3L2236.3 1226L2240.6 1228.2L2245 1230L2249.6 1231.4L2254.2 1232.4L2258.9 1233.1L2263.7 1233.5L2268.6 1233.7L2273.5 1233.6L2278.4 1233.4L2283.4 1232.9L2288.4 1232.4L2293.5 1231.8L2298.5 1231.1L2303.6 1230.4L2308.6 1229.7L2313.6 1229.1L2318.6 1228.5L2323.6 1228L2328.5 1227.6L2333.5 1227.4L2338.4 1227.3L2343.3 1227.3L2348.2 1227.5L2353 1227.9L2357.8 1228.5L2362.7 1229.4L2367.5 1230.4L2372.2 1231.8L2377 1233.4L2381.8 1235.3L2386.5 1237.5L2391.2 1240"/>
<path class="curve" stroke="#00AE64" d="M376.7 167.3L381.8 167.5L386.7 167L391.4 165.8L396.1 164.3L400.8 162.6L405.6 160.9L410.7 159.4L415.8 158.3L420.8 157.8L425.6 158.1L430.1 159.3L434.1 161.6L437.6 164.9L440.7 168.7L443.5 172.8L446 177L448.2 181.4L450.2 185.9L452 190.6L453.6 195.4L455 200.3L456.3 205.2L457.4 210.2L458.4 215.3L459.4 220.3L460.3 225.4L461.1 230.4L461.9 235.4L462.6 240.4L463.4 245.4L464.1 250.3L464.8 255.3L465.5 260.2L466.2 265.1L466.8 270.1L467.5 275L468.1 279.9L468.8 284.9L469.4 289.8L470 294.8L470.7 299.7L471.3 304.7L471.9 309.6L472.5 314.6L473.1 319.5L473.7 324.5L474.3 329.4L474.9 334.4L475.5 339.4L476 344.3L476.6 349.3L477.1 354.3L477.7 359.2L478.2 364.2L478.8 369.2L479.3 374.1L479.9 379.1L480.4 384.1L480.9 389L481.4 394L481.9 399L482.5 404L483 408.9L483.5 413.9L483.9 418.9L484.4 423.9L484.9 428.9L485.4 433.8L485.9 438.8L486.4 443.8L486.8 448.8L487.3 453.8L487.8 458.8L488.2 463.7L488.7 468.7L489.1 473.7L489.6 478.7L490 483.7L490.5 488.7L490.9 493.7L491.4 498.7L491.8 503.6L492.2 508.6L492.7 513.6L493.1 518.6L493.5 523.6L494 528.6L494.4 533.6L494.8 538.6L495.2 543.6L495.6 548.6L496.1 553.6L496.5 558.6L496.9 563.6L497.3 568.6L497.7 573.6L498.1 578.5L498.5 583.5L498.9 588.5L499.3 593.5L499.7 598.5L500.1 603.5L500.5 608.5L500.9 613.5L501.3 618.5L501.7 623.5L502.1 628.5L502.5 633.5L502.9 638.5L503.4 643.5L503.8 648.5L504.2 653.5L504.6 658.5L505 663.4L505.4 668.4L505.8 673.4L506.2 678.4L506.6 683.4L507 688.4L507.4 693.4L507.8 698.4L508.2 703.4L508.6 708.4L509 713.4L509.4 718.3L509.8 723.3L510.2 728.3L510.6 733.3L511 738.3L511.4 743.3L511.8 748.3L512.2 753.3L512.6 758.3L513 763.2L513.4 768.2L513.7 773.2L514.1 778.2L514.5 783.2L514.9 788.2L515.3 793.2L515.7 798.2L516.1 803.1L516.5 808.1L516.9 813.1L517.3 818.1L517.7 823.1L518.1 828.1L518.5 833.1L518.8 838.1L519.2 843L519.6 848L520 853L520.4 858L520.8 863L521.2 868L521.5 873L521.9 878L522.3 882.9L522.7 887.9L523.1 892.9L523.4 897.9L523.8 902.9L524.2 907.9L524.6 912.9L524.9 917.9L525.3 922.9L525.7 927.8L526.1 932.8L526.4 937.8L526.8 942.8L527.2 947.8L527.5 952.8L527.9 957.8L528.3 962.8L528.6 967.8L529 972.7L529.3 977.7L529.7 982.7L530.1 987.7L530.4 992.7L530.8 997.7L531.1 1002.7L531.5 1007.7L531.8 1012.7L532.2 1017.7L532.5 1022.7L532.9 1027.7L533.2 1032.6L533.5 1037.6L533.9 1042.6L534.2 1047.6L534.6 1052.6L534.9 1057.6L535.2 1062.6L535.6 1067.6L535.9 1072.6L536.2 1077.6L536.5 1082.6L536.9 1087.6L537.2 1092.6L537.5 1097.6L537.8 1102.6L538.1 1107.6L538.5 1112.6L538.8 1117.6L539.1 1122.6L539.4 1127.6L539.7 1132.6L540 1137.6L540.3 1142.6L540.6 1147.6L540.9 1152.6L541.2 1157.6L541.5 1162.6L541.8 1167.6L542.1 1172.6L542.4 1177.6L542.7 1182.6L543 1187.6L543.3 1192.6L543.6 1197.6L543.9 1202.6L544.2 1207.6L544.5 1212.6L544.8 1217.6L545.1 1222.6L545.4 1227.6L545.7 1232.6L546 1237.6L546.3 1242.6L546.6 1247.6L547 1252.6L547.3 1257.6L547.6 1262.6L547.9 1267.6L548.3 1272.6L548.6 1277.6L549 1282.6L549.3 1287.6L549.6 1292.6L550 1297.6L550.4 1302.6L550.7 1307.6L551.1 1312.6L551.5 1317.6L551.9 1322.5L552.3 1327.5L552.7 1332.5L553.1 1337.5L553.5 1342.5L553.9 1347.5L554.3 1352.4L554.8 1357.4L555.2 1362.4L555.7 1367.4L556.1 1372.3L556.6 1377.3L557.1 1382.3L557.5 1387.3L558 1392.2L558.5 1397.2L559.1 1402.1L559.6 1407.1L560.1 1412.1L560.7 1417L561.2 1422L561.8 1426.9L562.3 1431.9L562.9 1436.9L563.4 1441.8L564 1446.8L564.5 1451.8L565.1 1456.8L565.6 1461.8L566.1 1466.8L566.6 1471.8L567.1 1476.8L567.7 1481.8L568.4 1486.7L569.1 1491.6L570 1496.5L571 1501.3L572.1 1506.1L573.5 1510.8L575.1 1515.6L577 1520.3L579.3 1525.2L582 1529.9L585.3 1534.1L589.1 1537.4L593.3 1538.9L597.4 1538L601.5 1535.2L605.4 1531.5L609.3 1527.7L613 1524.1L616.7 1520.6L620.3 1517.2L623.9 1513.7L627.5 1510.3L631.2 1506.9L634.8 1503.6L638.5 1500.2L642.1 1496.9L645.8 1493.6L649.6 1490.3L653.3 1487L657.1 1483.7L661 1480.4L664.9 1477.2L668.8 1474L672.6 1470.7L676.5 1467.4L680.2 1464L683.9 1460.6L687.4 1457L690.8 1453.4L694 1449.6L697.1 1445.7L700 1441.7L702.8 1437.6L705.6 1433.5L708.2 1429.3L710.8 1425L713.4 1420.7L715.8 1416.4L718.3 1412L720.8 1407.6L723.2 1403.2L725.7 1398.8L728.1 1394.3L730.5 1389.9L732.9 1385.4L735.3 1381L737.6 1376.6L740 1372.1L742.3 1367.7L744.7 1363.3L747 1358.9L749.3 1354.5L751.7 1350.1L754.1 1345.7L756.4 1341.4L758.8 1337L761.2 1332.7L763.7 1328.4L766.2 1324.2L768.7 1319.9L771.3 1315.7L773.9 1311.5L776.5 1307.4L779.3 1303.3L782.1 1299.2L784.9 1295.1L787.8 1291.1L790.8 1287.1L793.9 1283.1L797.1 1279.2L800.3 1275.3L803.7 1271.5L807.1 1267.7L810.6 1264L814.2 1260.3L817.9 1256.7L821.7 1253.3L825.6 1249.9L829.5 1246.6L833.5 1243.4L837.6 1240.4L841.8 1237.4L846 1234.7L850.3 1232.1L854.7 1229.6L859.2 1227.3L863.6 1225.3L868.2 1223.4L872.8 1221.7L877.5 1220.2L882.2 1218.9L886.9 1217.9L891.7 1217.1L896.6 1216.6L901.5 1216.3L906.4 1216.2L911.3 1216.4L916.3 1216.8L921.2 1217.4L926.2 1218.2L931.1 1219.1L936.1 1220.3L941 1221.6L945.9 1223L950.7 1224.6L955.5 1226.3L960.3 1228.2L965 1230.1L969.6 1232.1L974.1 1234.3L978.6 1236.4L983 1238.7L987.4 1241L991.7 1243.4L995.9 1245.8L1000.2 1248.3L1004.4 1250.8L1008.7 1253.3L1012.9 1255.9L1017.2 1258.4L1021.5 1261L1025.9 1263.6L1030.3 1266.1L1034.8 1268.5L1039.4 1270.7L1044 1272.7L1048.7 1274.5L1053.5 1276L1058.3 1277.1L1063.3 1278L1068.2 1278.7L1073.2 1279.3L1078.1 1279.9L1083 1280.6L1087.9 1281.4L1092.6 1282.6L1097.3 1284L1101.8 1285.8L1106.2 1288.2L1110.4 1290.9L1114.4 1294L1118.3 1297.4L1122.1 1301L1125.7 1304.8L1129.1 1308.7L1132.3 1312.7L1135.4 1316.6L1138.3 1320.6L1141.1 1324.6L1143.7 1328.6L1146.3 1332.7L1148.7 1336.8L1151.1 1341L1153.3 1345.2L1155.6 1349.6L1157.7 1354L1159.9 1358.4L1162 1363L1164.2 1367.7L1166.3 1372.6L1168.5 1377.4L1170.7 1382.3L1173.1 1387.1L1175.5 1391.8L1178.1 1396.3L1180.9 1400.6L1183.9 1404.6L1187.1 1408.3L1190.6 1411.6L1194.3 1414.5L1198.4 1416.8L1202.7 1418.8L1207.3 1420.2L1212 1421.3L1216.9 1422L1221.9 1422.4L1227 1422.5L1232.2 1422.3L1237.3 1421.9L1242.4 1421.2L1247.4 1420.4L1252.4 1419.4L1257.3 1418.2L1262.1 1416.8L1266.9 1415.3L1271.5 1413.7L1276 1411.9L1280.5 1410L1284.8 1407.9L1289.1 1405.7L1293.4 1403.4L1297.6 1401L1301.8 1398.4L1306 1395.8L1310.2 1393L1314.4 1390.1L1318.7 1387.1L1323 1384.1L1327.3 1381.2L1331.7 1378.7L1336.1 1376.7L1340.4 1375.4L1344.8 1375.1L1349.2 1375.8L1353.5 1377.4L1357.7 1379.7L1361.8 1382.7L1365.8 1386.2L1369.6 1390.2L1373.2 1394.4L1376.7 1398.8L1379.9 1403.3L1382.8 1407.7L1385.6 1411.9L1388.3 1416L1390.9 1420L1393.8 1423.7L1396.8 1427.2L1400.3 1430.6L1404.1 1433.6L1408.4 1436.3L1412.9 1438.7L1417.6 1440.7L1422.5 1442.3L1427.5 1443.3L1432.5 1443.9L1437.4 1443.8L1442.1 1443.1L1446.8 1441.9L1451.3 1440.2L1455.7 1438.1L1460 1435.6L1464.1 1432.7L1468.2 1429.6L1472.1 1426.2L1476 1422.6L1479.7 1418.9L1483.3 1415.1L1486.7 1411.2L1490.1 1407.3L1493.4 1403.4L1496.6 1399.4L1499.7 1395.4L1502.8 1391.4L1505.8 1387.4L1508.7 1383.3L1511.7 1379.2L1514.5 1375.2L1517.4 1371.1L1520.3 1367L1523.1 1363L1526 1358.9L1528.9 1354.9L1531.8 1350.9L1534.7 1347L1537.7 1343.1L1540.7 1339.2L1543.8 1335.4L1547 1331.6L1550.2 1327.9L1553.6 1324.2L1557 1320.6L1560.5 1317.1L1564.2 1313.7L1567.9 1310.3L1571.6 1307L1575.5 1303.7L1579.4 1300.6L1583.5 1297.5L1587.5 1294.6L1591.7 1291.7L1595.9 1288.9L1600.2 1286.2L1604.5 1283.6L1608.9 1281.1L1613.4 1278.7L1617.9 1276.4L1622.4 1274.2L1627 1272.1L1631.7 1270.1L1636.4 1268.3L1641.1 1266.5L1645.8 1264.9L1650.6 1263.4L1655.4 1262L1660.2 1260.8L1665.1 1259.7L1670 1258.7L1674.9 1257.8L1679.8 1257.1L1684.7 1256.5L1689.6 1256.1L1694.5 1255.8L1699.5 1255.6L1704.4 1255.6L1709.3 1255.8L1714.3 1256.1L1719.2 1256.5L1724.1 1257L1729 1257.7L1733.9 1258.4L1738.9 1259.2L1743.8 1260.1L1748.7 1261.1L1753.6 1262.1L1758.6 1263.1L1763.5 1264.2L1768.5 1265.2L1773.5 1266.3L1778.4 1267.4L1783.4 1268.4L1788.4 1269.5L1793.4 1270.4L1798.4 1271.3L1803.5 1272.2L1808.5 1273L1813.5 1273.6L1818.6 1274.1L1823.6 1274.5L1828.6 1274.6L1833.5 1274.6L1838.3 1274.3L1843.1 1273.7L1847.8 1272.9L1852.4 1271.7L1856.9 1270.1L1861.3 1268.2L1865.6 1266L1869.9 1263.5L1874.1 1260.8L1878.3 1257.9L1882.6 1255.1L1887 1252.2L1891.5 1249.4L1896.1 1246.8L1900.7 1244.5L1905.4 1242.6L1910.1 1241.3L1914.8 1240.5L1919.5 1240.4L1924.1 1241.2L1928.8 1242.7L1933.4 1244.8L1938 1247.2L1942.7 1249.6L1947.4 1251.9L1952.3 1253.9L1957.2 1255.5L1962.1 1256.7L1967 1257.6L1972 1258.1L1976.9 1258.2L1981.9 1258L1986.7 1257.5L1991.5 1256.5L1996.2 1255.2L2000.8 1253.6L2005.2 1251.6L2009.5 1249.3L2013.7 1246.7L2017.6 1243.7L2021.3 1240.3L2024.9 1236.7L2028.4 1232.9L2031.7 1229L2035.1 1224.9L2038.4 1220.9L2041.8 1216.9L2045.2 1213L2048.8 1209.3L2052.6 1205.8L2056.6 1202.6L2060.8 1199.8L2065.2 1197.4L2069.7 1195.5L2074.3 1194L2079 1193L2083.6 1192.6L2088.3 1192.9L2092.8 1193.8L2097.2 1195.3L2101.5 1197.5L2105.7 1200.2L2109.8 1203.3L2113.8 1206.7L2117.7 1210.4L2121.5 1214.2L2125.3 1218.1L2129.1 1221.9L2132.8 1225.6L2136.5 1229.1L2140.1 1232.4L2143.8 1235.7L2147.4 1238.9L2151 1242L2154.7 1245.2L2158.3 1248.3L2162 1251.6L2165.6 1254.9L2169.3 1258.2L2173 1261.6L2176.8 1264.9L2180.6 1268.2L2184.4 1271.5L2188.3 1274.8L2192.2 1278L2196.2 1281.1L2200.2 1284.2L2204.3 1287.1L2208.5 1289.9L2212.8 1292.5L2217.1 1295L2221.5 1297.4L2226 1299.5L2230.6 1301.5L2235.2 1303.4L2239.9 1305.2L2244.6 1307L2249.3 1308.7L2254 1310.4L2258.7 1312.2L2263.3 1314L2267.9 1315.9L2272.5 1318L2276.9 1320.1L2281.3 1322.5L2285.6 1325.1L2289.8 1327.9L2293.8 1331"/>
<path class="curve" stroke="#C478E4" d="M376.7 648.6L381.2 651.2L385.4 654L389.2 657L392.7 660.3L395.9 663.8L398.8 667.5L401.5 671.4L403.9 675.5L406.1 679.7L408.1 684.1L409.9 688.6L411.5 693.2L413 697.9L414.3 702.7L415.5 707.6L416.6 712.6L417.6 717.6L418.5 722.7L419.4 727.7L420.3 732.8L421.1 737.9L422 742.9L422.8 748L423.6 753L424.4 758.1L425.3 763.1L426.1 768.1L426.9 773.1L427.7 778.1L428.5 783L429.3 788L430.1 793L430.9 797.9L431.7 802.9L432.4 807.8L433.2 812.7L434 817.7L434.7 822.6L435.5 827.5L436.2 832.4L437 837.4L437.7 842.3L438.4 847.2L439.1 852.1L439.9 857L440.6 861.9L441.3 866.8L442 871.7L442.6 876.6L443.3 881.6L444 886.5L444.7 891.4L445.3 896.3L446 901.2L446.6 906.2L447.2 911.1L447.9 916.1L448.5 921L449.1 925.9L449.7 930.9L450.3 935.9L450.9 940.8L451.4 945.8L452 950.7L452.6 955.7L453.2 960.7L453.7 965.6L454.3 970.6L454.8 975.6L455.4 980.6L455.9 985.5L456.5 990.5L457 995.5L457.5 1000.5L458.1 1005.5L458.6 1010.5L459.1 1015.5L459.6 1020.5L460.2 1025.5L460.7 1030.4L461.2 1035.4L461.7 1040.4L462.2 1045.4L462.7 1050.4L463.2 1055.4L463.7 1060.4L464.2 1065.4L464.7 1070.4L465.2 1075.4L465.8 1080.4L466.3 1085.4L466.8 1090.4L467.3 1095.4L467.8 1100.4L468.3 1105.4L468.8 1110.4L469.3 1115.4L469.8 1120.3L470.4 1125.3L470.9 1130.3L471.4 1135.3L471.9 1140.3L472.4 1145.3L473 1150.2L473.5 1155.2L474 1160.2L474.6 1165.2L475.1 1170.1L475.7 1175.1L476.2 1180.1L476.8 1185L477.4 1190L477.9 1194.9L478.5 1199.9L479.1 1204.8L479.7 1209.8L480.3 1214.7L480.9 1219.6L481.5 1224.6L482.1 1229.5L482.7 1234.4L483.3 1239.3L484 1244.3L484.6 1249.2L485.3 1254.1L485.9 1259L486.6 1263.9L487.3 1268.8L488 1273.7L488.7 1278.5L489.4 1283.4L490.1 1288.3L490.9 1293.2L491.7 1298.1L492.5 1303L493.3 1308L494.1 1312.9L495 1317.8L495.9 1322.8L496.8 1327.7L497.7 1332.7L498.7 1337.7L499.7 1342.7L500.8 1347.7L501.8 1352.7L502.9 1357.7L504.1 1362.8L505.3 1367.8L506.6 1372.9L508.1 1377.8L509.6 1382.7L511.4 1387.6L513.3 1392.3L515.4 1396.9L517.7 1401.3L520.4 1405.6L523.2 1409.7L526.3 1413.6L529.7 1417.3L533.3 1420.7L537 1423.8L541 1426.7L545 1429.2L549.3 1431.4L553.6 1433.2L558.1 1434.7L562.6 1435.8L567.2 1436.4L571.8 1436.6L576.5 1436.3L581.2 1435.6L585.9 1434.3L590.5 1432.5L595.1 1430.2L599.6 1427.4L604.2 1424.4L608.7 1421.3L613.2 1418.2L617.7 1415.3L622.3 1412.7L626.9 1410.5L631.5 1408.9L636.2 1408L640.9 1407.7L645.7 1407.8L650.6 1408.2L655.5 1408.7L660.5 1409.2L665.5 1409.5L670.6 1409.7L675.7 1409.5L680.8 1409L685.8 1408.3L690.8 1407.2L695.6 1405.8L700.2 1404.1L704.7 1402.1L708.9 1399.6L712.9 1396.9L716.5 1393.7L719.9 1390.2L723 1386.5L726 1382.5L728.8 1378.3L731.6 1374L734.3 1369.7L737 1365.3L739.7 1361L742.4 1356.7L745.2 1352.4L748 1348.1L750.9 1343.9L753.7 1339.8L756.7 1335.6L759.6 1331.5L762.6 1327.4L765.6 1323.4L768.7 1319.4L771.8 1315.5L774.9 1311.5L778.1 1307.7L781.3 1303.9L784.6 1300.1L787.9 1296.3L791.3 1292.7L794.6 1289L798.1 1285.4L801.6 1281.9L805.1 1278.4L808.7 1275L812.3 1271.6L815.9 1268.3L819.6 1265.1L823.4 1261.9L827.2 1258.7L831.1 1255.7L835 1252.6L838.9 1249.7L842.9 1246.8L847 1244L851.1 1241.2L855.3 1238.5L859.5 1235.9L863.7 1233.3L868.1 1230.9L872.5 1228.5L876.9 1226.1L881.4 1223.9L885.9 1221.7L890.5 1219.5L895.1 1217.5L899.8 1215.4L904.5 1213.4L909.2 1211.4L913.9 1209.5L918.7 1207.6L923.4 1205.6L928.2 1203.7L932.9 1201.8L937.7 1200L942.4 1198.5L947.2 1197.2L951.9 1196.3L956.7 1195.8L961.5 1195.9L966.2 1196.5L971 1197.6L975.6 1199.1L980.1 1201L984.4 1203.3L988.5 1206L992.4 1209.1L996.1 1212.4L999.4 1216L1002.4 1219.8L1005.1 1223.9L1007.6 1228.1L1009.9 1232.5L1012 1237L1014.1 1241.6L1016 1246.3L1018 1251L1019.9 1255.8L1021.9 1260.5L1024 1265.2L1026.2 1269.9L1028.5 1274.5L1030.8 1279.1L1033.3 1283.6L1035.8 1288L1038.5 1292.4L1041.2 1296.6L1044 1300.8L1047 1304.9L1050 1308.8L1053.2 1312.7L1056.5 1316.4L1059.9 1320L1063.4 1323.4L1067.1 1326.7L1070.9 1329.8L1074.8 1332.7L1078.9 1335.4L1083.1 1338L1087.4 1340.4L1091.9 1342.6L1096.4 1344.7L1101 1346.6L1105.7 1348.6L1110.4 1350.5L1115 1352.4L1119.7 1354.4L1124.2 1356.4L1128.7 1358.5L1133.1 1360.8L1137.3 1363.3L1141.4 1365.9L1145.4 1368.8L1149.1 1372L1152.6 1375.4L1155.9 1379.1L1159.1 1382.9L1162.2 1387L1165.2 1391.1L1168.1 1395.4L1170.9 1399.7L1173.7 1404.1L1176.5 1408.5L1179.3 1412.9L1182.1 1417.2L1185 1421.5L1188 1425.7L1191 1429.7L1194.2 1433.5L1197.6 1437.2L1201.1 1440.6L1204.8 1443.8L1208.7 1446.7L1212.8 1449.2L1217.2 1451.5L1221.7 1453.4L1226.4 1455L1231.2 1456.2L1236.1 1457.1L1241.1 1457.6L1246.1 1457.8L1251.1 1457.6L1256 1457L1260.9 1456.1L1265.7 1454.8L1270.4 1453.2L1274.9 1451.1L1279.2 1448.7L1283.4 1446L1287.5 1443L1291.5 1439.8L1295.4 1436.5L1299.3 1433L1303.3 1429.5L1307.2 1426L1311.3 1422.6L1315.4 1419.3L1319.6 1416.1L1323.9 1413.3L1328.2 1410.9L1332.6 1409L1337 1407.7L1341.5 1407.2L1345.9 1407.3L1350.4 1408.1L1354.8 1409.5L1359.1 1411.5L1363.4 1414.1L1367.6 1417.2L1371.7 1420.8L1375.7 1424.7L1379.7 1428.7L1383.7 1432.7L1387.7 1436.5L1391.7 1439.9L1395.9 1442.7L1400.3 1444.8L1404.7 1446.2L1409.2 1447.1L1413.8 1447.3L1418.4 1447L1423.1 1446.2L1427.7 1445L1432.4 1443.4L1437 1441.4L1441.5 1439.1L1446 1436.5L1450.4 1433.7L1454.6 1430.7L1458.7 1427.6L1462.7 1424.4L1466.5 1421.1L1470.2 1417.7L1473.7 1414.2L1477.2 1410.7L1480.5 1407L1483.8 1403.3L1486.9 1399.6L1490 1395.7L1493 1391.8L1495.9 1387.9L1498.8 1383.9L1501.6 1379.8L1504.4 1375.8L1507.1 1371.6L1509.9 1367.5L1512.6 1363.3L1515.4 1359.2L1518.1 1355L1520.9 1350.8L1523.7 1346.6L1526.5 1342.3L1529.3 1338.1L1532.2 1333.9L1535.1 1329.8L1538 1325.6L1541 1321.4L1544 1317.3L1547 1313.2L1550.1 1309.2L1553.2 1305.1L1556.3 1301.2L1559.5 1297.2L1562.8 1293.3L1566.1 1289.5L1569.4 1285.7L1572.8 1282L1576.2 1278.3L1579.7 1274.7L1583.2 1271.2L1586.8 1267.8L1590.4 1264.4L1594.1 1261.2L1597.9 1258L1601.7 1254.9L1605.5 1251.9L1609.5 1249.1L1613.5 1246.3L1617.6 1243.6L1621.7 1241.1L1625.9 1238.6L1630.2 1236.3L1634.5 1234.2L1639 1232.1L1643.5 1230.2L1648.1 1228.4L1652.7 1226.8L1657.5 1225.3L1662.3 1224L1667.2 1222.8L1672.1 1221.7L1677.1 1220.8L1682.2 1220.1L1687.2 1219.5L1692.3 1219L1697.5 1218.6L1702.6 1218.4L1707.7 1218.2L1712.9 1218.3L1718 1218.4L1723.1 1218.6L1728.1 1219L1733.1 1219.4L1738.1 1220L1743 1220.7L1747.9 1221.5L1752.7 1222.4L1757.4 1223.4L1762.1 1224.6L1766.8 1225.9L1771.5 1227.3L1776.1 1228.8L1780.8 1230.6L1785.4 1232.4L1790 1234.4L1794.6 1236.5L1799.2 1238.6L1803.8 1240.6L1808.6 1242.5L1813.3 1244.1L1818.2 1245.4L1823.2 1246.3L1828.2 1246.7L1833.2 1246.8L1838.2 1246.5L1843.1 1245.8L1847.9 1244.7L1852.6 1243.2L1857 1241.2L1861.2 1238.9L1865.2 1236.2L1868.8 1233.1L1872.1 1229.6L1875.3 1225.9L1878.3 1221.9L1881.3 1217.8L1884.2 1213.6L1887.1 1209.3L1890.2 1205L1893.3 1200.7L1896.7 1196.6L1900.2 1192.7L1903.8 1189L1907.7 1185.6L1911.6 1182.5L1915.8 1179.9L1920.1 1177.8L1924.5 1176.3L1929.1 1175.4L1933.9 1175.1L1938.7 1175.4L1943.7 1176.2L1948.6 1177.4L1953.4 1179L1958.1 1180.8L1962.8 1182.8L1967.3 1185L1971.7 1187.4L1976 1190L1980.2 1192.7L1984.3 1195.6L1988.4 1198.7L1992.3 1201.8L1996.2 1205L2000 1208.4L2003.7 1211.8L2007.4 1215.2L2011 1218.7L2014.5 1222.2L2018 1225.8L2021.4 1229.3L2024.8 1232.8L2028.2 1236.4L2031.6 1239.9L2034.9 1243.5L2038.3 1247.1L2041.7 1250.7L2045.1 1254.4L2048.6 1258.1L2052.2 1261.8L2055.8 1265.6L2059.5 1269.4L2063.3 1273.1L2067.2 1276.6L2071.2 1279.7L2075.4 1282.4L2079.7 1284.6L2084.2 1286L2088.8 1286.8L2093.6 1286.9L2098.4 1286.6L2103.4 1285.9L2108.4 1284.9L2113.5 1283.7L2118.5 1282.4L2123.6 1281.1L2128.6 1279.9L2133.6 1279L2138.5 1278.4L2143.4 1278.1L2148.1 1278.4L2152.6 1279.2L2157.1 1280.5L2161.5 1282.3L2165.8 1284.5L2170 1286.9L2174.1 1289.7L2178.2 1292.7L2182.3 1295.9L2186.4 1299.2L2190.4 1302.5L2194.5 1305.8L2198.6 1309.1L2202.7 1312.3L2206.9 1315.4L2211.2 1318.2L2215.5 1320.8L2219.9 1323.1L2224.4 1325.2L2229 1327L2233.6 1328.5L2238.2 1329.7L2242.9 1330.7L2247.7 1331.5L2252.5 1332L2257.3 1332.2L2262.2 1332.1L2267 1331.8L2271.9 1331.3L2276.8 1330.5L2281.7 1329.4L2286.6 1328.2L2291.5 1326.7L2296.5 1325.2L2301.4 1323.6L2306.3 1322.1L2311.2 1320.7L2316.2 1319.5L2321.1 1318.5L2326.1 1317.9L2331 1317.6L2336 1317.9L2341 1318.6"/>
</g>
<g id="ylabels" class="tick" text-anchor="end">
<text transform="translate(326 145.9) scale(1.029 1)">0.40</text>
<text transform="translate(326 331.5) scale(1.029 1)">0.35</text>
<text transform="translate(326 517.1) scale(1.029 1)">0.30</text>
<text transform="translate(326 702.8) scale(1.029 1)">0.25</text>
<text transform="translate(326 888.4) scale(1.029 1)">0.20</text>
<text transform="translate(326 1074.0) scale(1.029 1)">0.15</text>
<text transform="translate(326 1259.6) scale(1.029 1)">0.10</text>
<text transform="translate(326 1445.2) scale(1.029 1)">0.05</text>
<text transform="translate(326 1630.9) scale(1.029 1)">0.00</text>
</g>
<g id="xlabels" class="tick" text-anchor="middle">
<text transform="translate(376.4 1723.3) scale(1.015 1)">0</text>
<text transform="translate(723.0 1723.3) scale(1.015 1)">2</text>
<text transform="translate(1065.1 1723.3) scale(1.015 1)">4</text>
<text transform="translate(1408.3 1723.3) scale(1.015 1)">6</text>
<text transform="translate(1755.0 1723.3) scale(1.015 1)">8</text>
<text transform="translate(2099.9 1723.3) scale(1.015 1)">10</text>
<text transform="translate(2443.5 1723.3) scale(1.015 1)">12</text>
</g>
<text class="title" text-anchor="middle" transform="translate(1408.5 1861.2) scale(1.003 1)">Photon Energy(eV)</text>
<text class="title" text-anchor="middle" transform="translate(79.8 774.4) rotate(-90) scale(1.022 1)">R(ω)</text>
<g id="legend">
<rect x="1958.8" y="60.6" width="453.2" height="458.8" fill="#fff" stroke="#000" stroke-width="3.4"/>
<rect x="1963" y="99.7" width="151.4" height="9.4" fill="#4F4F4F"/>
<text class="leg" transform="translate(2122.9 124.4) scale(1.075 1)">Bulk</text>
<rect x="1963" y="181.4" width="151.4" height="9.4" fill="#FF3B3B"/>
<text class="leg" transform="translate(2121.3 203.0) scale(1.063 1)">(100)-PbI<tspan class="sub" x="241.7" dy="19.0">5</tspan></text>
<rect x="1963" y="272.7" width="151.4" height="9.4" fill="#0070E6"/>
<text class="leg" transform="translate(2121.3 297.4) scale(1.063 1)">(100)-PbI<tspan class="sub" x="241.7" dy="16.0">6</tspan></text>
<rect x="1963" y="364.0" width="151.4" height="9.4" fill="#00AE64"/>
<text class="leg" transform="translate(2121.3 388.6) scale(1.063 1)">(111)-PbI<tspan class="sub" x="241.7" dy="16.0">3</tspan></text>
<rect x="1963" y="458.4" width="151.4" height="9.4" fill="#C478E4"/>
<text class="leg" transform="translate(2121.3 480.0) scale(1.063 1)">(111)-PbI<tspan class="sub" x="241.7" dy="18.8">6</tspan></text>
</g>
</svg>
</body></html>
